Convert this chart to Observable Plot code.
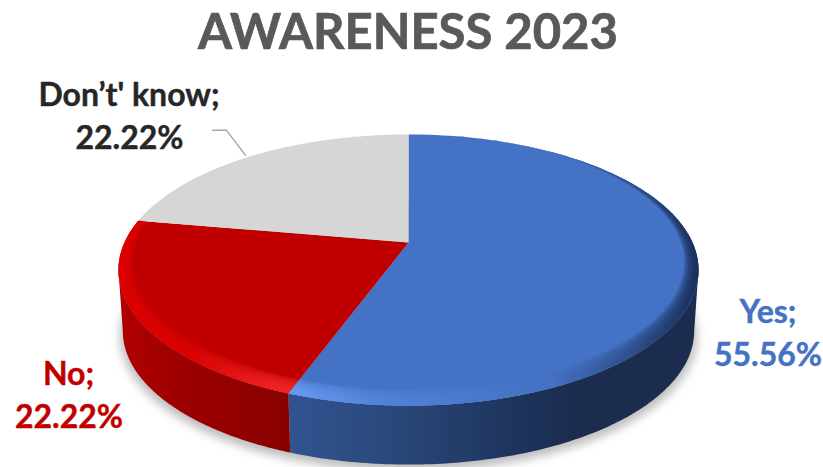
<!DOCTYPE html>
<html>
<head>
<meta charset="utf-8">
<script src="https://cdn.jsdelivr.net/npm/d3@7"></script>
<script src="https://cdn.jsdelivr.net/npm/@observablehq/plot@0.6"></script>
<style>
  html, body { margin: 0; padding: 0; background: #fff; }
  svg { display: block; }
</style>
</head>
<body>
<div id="chart"></div>
<script>
// Survey shares
const categories = ["Yes", "No", "Don’t' know"];
const shares = [55.56, 22.22, 22.22];
const shareLabels = ["55.56%", "22.22%", "22.22%"];
const chartTitle = "AWARENESS 2023";

const faceColors = ["#4472c4", "#c00000", "#d6d6d6"];
const labelColors = ["#4472c4", "#c00000", "#262626"];

// Horizontal colour ramps: [pixel x, colour]
const wallRamps = [
  [[292, "#30538f"], [400, "#2a4779"], [500, "#1f3660"], [570, "#1b2c4f"], [700, "#1b2c4f"]],
  [[118, "#b00000"], [200, "#990000"], [292, "#880000"]]
];
const rimRamps = [
  [[292, "#6b9bf2"], [380, "#5283dc"], [480, "#4a79cc"], [545, "#4472c4"], [620, "#2f528f"], [698, "#162a52"]],
  [[118, "#e00000"], [190, "#dc0202"], [260, "#ee2020"], [292, "#f22828"]]
];

// Tilted disc: a perspective view of the unit circle
const cx = 408, cy = 242, sx = 284, sy = 130, tilt = 0.203;
const floorY = 303.4, floorScale = 0.985;
const project = (r, angle, oy = cy, s = 1) => {
  const u = r * Math.sin(angle), v = r * Math.cos(angle), w = 1 + tilt * v;
  return {px: cx + s * sx * u / w, py: oy - s * sy * v / w};
};

const arcs = d3.pie().sort(null)(shares);
const steps = 120;
const sweep = (t0, t1) => d3.range(0, steps + 1).map(i => t0 + (t1 - t0) * i / steps);
const wedge = a => [project(0, 0), ...sweep(a.startAngle, a.endAngle).map(t => project(1, t))];

// Only the front of the disc shows a wall; it ends where the rim turns away from the viewer
const turnRight = Math.acos(-tilt), turnLeft = 2 * Math.PI - turnRight;
const wall = a => {
  const angles = sweep(Math.max(a.startAngle, turnRight), Math.min(a.endAngle, turnLeft));
  return [
    ...angles.map(t => project(1, t)),
    ...angles.slice().reverse().map(t => project(1, t, floorY, floorScale))
  ];
};

// Rim ring whose width grows from nothing at the back to its full size at the front
const band = (a, width) => {
  const angles = sweep(a.startAngle, a.endAngle);
  return [
    ...angles.map(t => project(1, t)),
    ...angles.slice().reverse().map(t => project(1 - width * (1 - Math.cos(t)) / 2, t))
  ];
};

const polygon = (points, fill, extra = {}) =>
  Plot.line(points, {x: "px", y: "py", fill, stroke: "none", ...extra});

// Gradient definitions shared by the wall and rim shapes
const gradients = () => {
  const defs = d3.create("svg:defs");
  const add = (id, ramp) => {
    const [x0, x1] = d3.extent(ramp, d => d[0]);
    const g = defs.append("linearGradient").attr("id", id)
      .attr("gradientUnits", "userSpaceOnUse")
      .attr("x1", x0).attr("x2", x1).attr("y1", 0).attr("y2", 0);
    ramp.forEach(([x, c]) => g.append("stop").attr("offset", (x - x0) / (x1 - x0)).attr("stop-color", c));
  };
  wallRamps.forEach((r, i) => add(`wall${i}`, r));
  rimRamps.forEach((r, i) => add(`rim${i}`, r));
  return defs.node();
};

// The rim softens toward the face through stacked translucent rings
const rimWidths = [0.02, 0.03, 0.04, 0.05, 0.06, 0.07, 0.08];

// Leader from the grey slice to its label
const grey = arcs[2];
const greyMid = (grey.startAngle + grey.endAngle) / 2;
const leaderEnd = project(1, greyMid);
const leader = [
  {px: leaderEnd.px - 38, py: leaderEnd.py - 26},
  {px: leaderEnd.px - 24, py: leaderEnd.py - 26},
  {px: leaderEnd.px - 5, py: leaderEnd.py - 1}
];

const labels = [
  {text: `${categories[0]};`, px: 767.5, py: 312, c: labelColors[0]},
  {text: shareLabels[0], px: 767.5, py: 355, c: labelColors[0]},
  {text: `${categories[1]};`, px: 68, py: 374, c: labelColors[1]},
  {text: shareLabels[1], px: 68.5, py: 417, c: labelColors[1]},
  {text: `${categories[2]};`, px: 128.5, py: 95, c: labelColors[2]},
  {text: shareLabels[2], px: 129, py: 138, c: labelColors[2]}
];

const font = "Lato, Carlito, sans-serif";

const chart = Plot.plot({
  width: 823,
  height: 467,
  margin: 0,
  x: {domain: [0, 823], range: [0, 823], axis: null},
  y: {domain: [0, 467], range: [0, 467], axis: null},
  marks: [
    gradients,
    // soft ground shadow
    polygon(d3.range(0, 181).map(i => project(1, i * 2 * Math.PI / 180, floorY + 5, floorScale * 1.01)), "#bdbdbd",
      {imageFilter: "blur(5px)"}),
    // side walls, then the top face over them
    ...arcs.slice(0, 2).map((a, i) => polygon(wall(a), `url(#wall${i})`)),
    ...arcs.map((a, i) => polygon(wedge(a), faceColors[i])),
    // bevelled rim
    ...rimWidths.flatMap(w => arcs.slice(0, 2).map((a, i) => polygon(band(a, w), `url(#rim${i})`, {fillOpacity: 0.3}))),
    // leader and text
    Plot.line(leader, {x: "px", y: "py", stroke: "#a6a6a6", strokeWidth: 1.4}),
    Plot.text([chartTitle], {
      x: () => 407.5, y: () => 33, text: d => d, fill: "#595959", stroke: "#595959", strokeWidth: 0.7,
      fontSize: 49, fontWeight: 700, fontFamily: font, textAnchor: "middle"
    }),
    Plot.text(labels, {
      x: "px", y: "py", text: "text", fill: "c", stroke: "c", strokeWidth: 0.4,
      fontSize: 32, fontWeight: 700, fontFamily: font, textAnchor: "middle"
    })
  ]
});
document.getElementById("chart").append(chart);
</script>
</body>
</html>
